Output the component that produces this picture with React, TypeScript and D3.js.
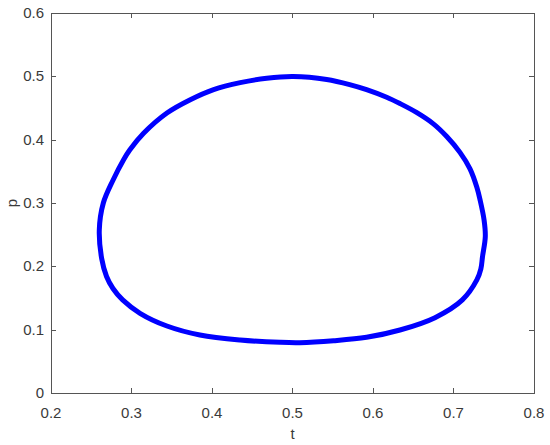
import React, { useEffect, useRef } from 'react';
import * as d3 from 'd3';

// closed curve traced clockwise from the leftmost point
const tValues = [
  0.260, 0.265, 0.277, 0.290, 0.298, 0.315, 0.344, 0.373, 0.402, 0.435, 0.468, 0.501,
  0.5425, 0.571, 0.592, 0.617, 0.6335, 0.654, 0.675, 0.6916, 0.708, 0.7205, 0.729, 0.733,
  0.738, 0.7395, 0.736, 0.734, 0.729, 0.711, 0.677, 0.6335, 0.592, 0.551, 0.509, 0.4845,
  0.435, 0.385, 0.344, 0.3106, 0.289, 0.277, 0.269, 0.263,
];
const pValues = [
  0.2575, 0.300, 0.336, 0.368, 0.384, 0.410, 0.442, 0.463, 0.479, 0.490, 0.497, 0.4997,
  0.495, 0.487, 0.479, 0.467, 0.457, 0.443, 0.425, 0.405, 0.380, 0.354, 0.325, 0.305,
  0.273, 0.247, 0.215, 0.196, 0.1785, 0.147, 0.119, 0.0995, 0.088, 0.0826, 0.0795, 0.080,
  0.0837, 0.0916, 0.1058, 0.1259, 0.147, 0.165, 0.184, 0.212,
];
const xTicks = [0.2, 0.3, 0.4, 0.5, 0.6, 0.7, 0.8];
const yTicks = [0, 0.1, 0.2, 0.3, 0.4, 0.5, 0.6];

const App = () => {
  const svgRef = useRef<SVGSVGElement>(null);

  useEffect(() => {
    const svg = d3.select(svgRef.current);
    svg.selectAll('*').remove();

    const left = 51, right = 534, top = 13, bottom = 393;
    const axisColor = '#555';
    const textColor = '#3a3a3a';
    const font = 'Arial, "Liberation Sans", sans-serif';

    const x = d3.scaleLinear().domain([0.2, 0.8]).range([left, right]);
    const y = d3.scaleLinear().domain([0, 0.6]).range([bottom, top]);

    const g = svg.append('g');

    // box
    g.append('rect')
      .attr('x', left + 0.5).attr('y', top + 0.5)
      .attr('width', right - left).attr('height', bottom - top)
      .attr('fill', 'white').attr('stroke', axisColor).attr('stroke-width', 1);

    const tickLen = 5;
    xTicks.forEach(t => {
      const px = Math.round(x(t)) + 0.5;
      g.append('line').attr('x1', px).attr('x2', px).attr('y1', bottom).attr('y2', bottom - tickLen)
        .attr('stroke', axisColor);
      g.append('line').attr('x1', px).attr('x2', px).attr('y1', top).attr('y2', top + tickLen)
        .attr('stroke', axisColor);
      g.append('text').attr('x', x(t)).attr('y', 418)
        .attr('text-anchor', 'middle')
        .attr('font-family', font).attr('font-size', 15).attr('fill', textColor)
        .text(d3.format('')(t));
    });

    yTicks.forEach(v => {
      const py = Math.round(y(v)) + 0.5;
      g.append('line').attr('x1', left).attr('x2', left + tickLen).attr('y1', py).attr('y2', py)
        .attr('stroke', axisColor);
      g.append('line').attr('x1', right).attr('x2', right - tickLen).attr('y1', py).attr('y2', py)
        .attr('stroke', axisColor);
      g.append('text').attr('x', 44).attr('y', y(v) + 5)
        .attr('text-anchor', 'end')
        .attr('font-family', font).attr('font-size', 15).attr('fill', textColor)
        .text(d3.format('')(v));
    });

    g.append('text').attr('x', (left + right) / 2).attr('y', 439)
      .attr('text-anchor', 'middle')
      .attr('font-family', font).attr('font-size', 15).attr('fill', textColor)
      .text('t');

    g.append('text')
      .attr('transform', `translate(17,${(top + bottom) / 2}) rotate(-90)`)
      .attr('text-anchor', 'middle')
      .attr('font-family', font).attr('font-size', 15).attr('fill', textColor)
      .text('p');

    const points: [number, number][] = tValues.map((t, i) => [t, pValues[i]]);
    const line = d3.line<[number, number]>()
      .x(d => x(d[0]))
      .y(d => y(d[1]))
      .curve(d3.curveCatmullRomClosed.alpha(0.5));

    g.append('path')
      .datum(points)
      .attr('d', line)
      .attr('fill', 'none')
      .attr('stroke', '#0000ff')
      .attr('stroke-width', 5)
      .attr('stroke-linejoin', 'round');
  }, []);

  return (
    <div style={{ position: 'absolute', left: 0, top: 0 }}>
      <svg ref={svgRef} width={550} height={445} style={{ display: 'block', background: 'white' }}></svg>
    </div>
  );
};

export default App;
